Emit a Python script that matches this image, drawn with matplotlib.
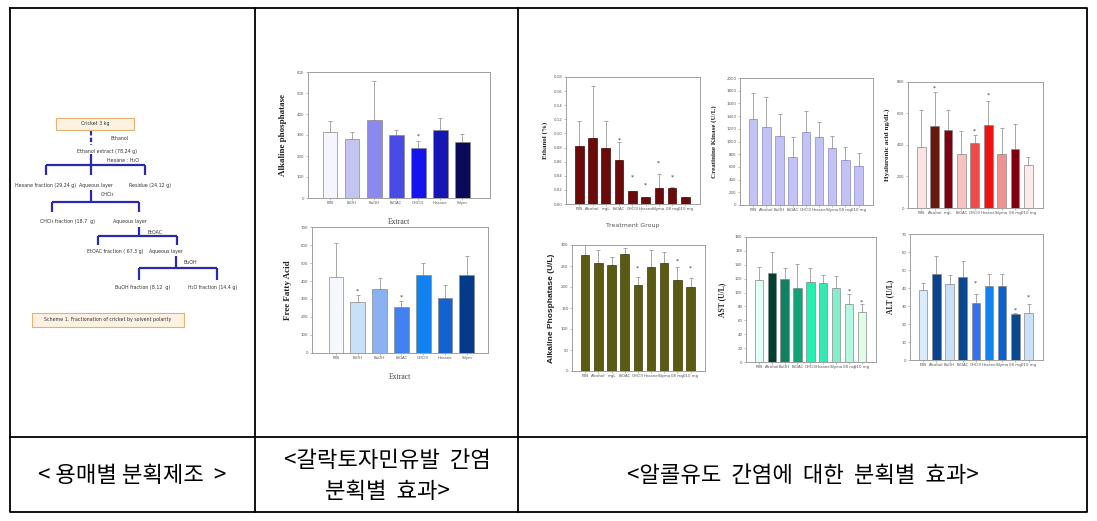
import matplotlib
matplotlib.use('Agg')
import matplotlib.pyplot as plt
from matplotlib.patches import Rectangle

W, H = 1097, 521

# ---------------- data ----------------
ext_groups = ['PBS', 'EtOH', 'BuOH', 'EtOAC', 'CHCl3', 'Hexane', 'Silym']
galn_alp = [313, 283, 370, 298, 238, 323, 267]
galn_alp_top = [365, 313, 555, 323, 273, 380, 307]
galn_alp_star = [None, None, None, None, 293, None, None]
galn_alp_colors = ['#f5f5ff', '#c4c4f2', '#8a8aee', '#4a4ae4', '#1414f0', '#1616b4', '#0a0a58']

galn_ffa = [425, 285, 355, 258, 435, 305, 435]
galn_ffa_top = [610, 322, 415, 290, 500, 380, 537]
galn_ffa_star = [None, 345, None, 312, None, None, None]
galn_ffa_colors = ['#f6f8ff', '#c8e0f8', '#8ab2f2', '#4282f0', '#1282f0', '#1262d2', '#043a8a']

alc_groups_a = ['PBS', 'Alcohol', 'mgL', 'EtOAC', 'CHCl3', 'Hexane', 'Silyma', '08 mg', '010 mg']
alc_groups_b = ['PBS', 'Alcohol', 'BuOH', 'EtOAC', 'CHCl3', 'Hexane', 'Silyma', '08 mg', '010 mg']

ethanol = [0.082, 0.094, 0.080, 0.062, 0.018, 0.010, 0.023, 0.022, 0.010]
ethanol_top = [0.118, 0.167, 0.118, 0.088, 0.019, 0.010, 0.043, 0.024, 0.010]
ethanol_star = [None, None, None, 0.090, 0.038, 0.027, 0.058, 0.038, None]

ck = [1360, 1230, 1090, 760, 1150, 1070, 900, 710, 620]
ck_top = [1770, 1700, 1430, 1070, 1480, 1300, 1080, 920, 820]

ha = [385, 520, 495, 345, 415, 525, 340, 375, 270]
ha_top = [620, 735, 625, 490, 465, 680, 505, 535, 325]
ha_star = [None, 760, None, None, 490, 715, None, None, None]
ha_colors = ['#fde4e4', '#6a1a0c', '#800012', '#f8c2c2', '#f04a4a', '#f01212', '#f09292', '#800012', '#fdeaea']

alp = [277, 258, 252, 278, 205, 248, 257, 217, 200]
alp_top = [320, 288, 272, 294, 225, 288, 284, 248, 222]
alp_star = [None, None, None, None, 245, None, None, 262, 246]

ast = [118, 128, 119, 107, 115, 114, 107, 83, 72]
ast_top = [137, 158, 135, 141, 136, 126, 124, 98, 83]
ast_star = [None, None, None, None, None, None, None, 102, 87]
ast_colors = ['#e2fff4', '#024030', '#108262', '#12a27a', '#22f0b2', '#34e8b2', '#84f0ca', '#b4f8e2', '#e2fce8']

alt = [39, 48, 42, 46, 31.5, 41, 41, 25.5, 26]
alt_top = [43, 58, 47, 55, 36.5, 48, 48, 26, 31]
alt_star = [None, None, None, None, 43, None, None, 27.5, 35]
alt_colors = ['#d8ecfc', '#0a4490', '#c8e0f8', '#0a4890', '#3272f0', '#1282f0', '#0a62d2', '#0a4890', '#c8e0f8']

captions = ['< 용매별 분획제조  >', '<갈락토자민유발  간염\n분획별  효과>', '<알콜유도  간염에  대한  분획별  효과>']

# ---------------- figure ----------------
fig = plt.figure(figsize=(W / 100, H / 100), dpi=100)
fig.patch.set_facecolor('white')

ov = fig.add_axes([0, 0, 1, 1])
ov.set_xlim(0, W)
ov.set_ylim(H, 0)
ov.axis('off')
ov.patch.set_alpha(0)

# table grid
tk = dict(color='black', lw=1.3, solid_capstyle='projecting')
L, R, T, B = 10, 1087, 8, 512
ov.plot([L, R, R, L, L], [T, T, B, B, T], **tk)
ov.plot([L, R], [437, 437], **tk)
ov.plot([255, 255], [T, B], **tk)
ov.plot([518, 518], [T, B], **tk)

# captions
cap_font = ['Noto Sans CJK KR', 'DejaVu Sans']
ov.text(132, 476, captions[0], ha='center', va='center', fontsize=16, family=cap_font)
ov.text(387, 476, captions[1], ha='center', va='center', fontsize=16, family=cap_font, linespacing=1.45)
ov.text(803, 476, captions[2], ha='center', va='center', fontsize=16, family=cap_font)

# flowchart
fc = '#2a2ab0'
lk = dict(color=fc, lw=1.6, solid_capstyle='butt')
ft = dict(fontsize=3.4, ha='center', va='center', color='#333333')
ov.add_patch(Rectangle((56, 118), 78, 12, fc='#fdf1e2', ec='#e6b070', lw=0.8))
ov.text(95, 124, 'Cricket 3 kg', **ft)
ov.plot([91, 91], [131, 145], color=fc, lw=1.6, ls=(0, (2, 1)))
ov.text(120, 139, 'Ethanol', **ft)
ov.text(107, 151, 'Ethanol extract (78.24 g)', **ft)
ov.plot([91, 91], [154, 165], **lk)
ov.text(123, 161, 'Hexane : H₂O', **ft)
ov.plot([46, 145], [165, 165], **lk)
for xx in (46, 91, 145):
    ov.plot([xx, xx], [165, 175], **lk)
ov.text(46, 185, 'Hexane fraction (29.24 g)', **ft)
ov.text(96, 185, 'Aqueous layer', **ft)
ov.text(150, 185, 'Residue (24.12 g)', **ft)
ov.plot([91, 91], [190, 202], **lk)
ov.text(107, 195, 'CHCl₃', **ft)
ov.plot([52, 139], [202, 202], **lk)
for xx in (52, 139):
    ov.plot([xx, xx], [202, 212], **lk)
ov.text(67, 222, 'CHCl₃ fraction (18.7  g)', **ft)
ov.text(130, 222, 'Aqueous layer', **ft)
ov.plot([139, 139], [227, 236], **lk)
ov.text(155, 232, 'EtOAC', **ft)
ov.plot([98, 177], [236, 236], **lk)
for xx in (98, 177):
    ov.plot([xx, xx], [236, 245], **lk)
ov.text(115, 252, 'EtOAC fraction ( 67.3 g)', **ft)
ov.text(166, 251, 'Aqueous layer', **ft)
ov.plot([176, 176], [256, 268], **lk)
ov.text(190, 262, 'BuOH', **ft)
ov.plot([139, 217], [268, 268], **lk)
for xx in (139, 217):
    ov.plot([xx, xx], [268, 280], **lk)
ov.text(143, 287, 'BuOH fraction (8.12  g)', **ft)
ov.text(213, 287, 'H₂O fraction (14.4 g)', **ft)
ov.add_patch(Rectangle((32, 313), 152, 14, fc='#fdf1e2', ec='#e6b070', lw=0.8))
ov.text(108, 320, 'Scheme 1. Fractionation of cricket by solvent polarity', **ft)


def px_axes(x0, y0, x1, y1):
    return fig.add_axes([x0 / W, 1 - y1 / H, (x1 - x0) / W, (y1 - y0) / H])


def bar_panel(rect, cats, vals, tops, colors, ylim, ystep, ylabel, ylab_x,
              ylab_kw, stars=None, xlim=(-1, 9.1), width=0.65, fmt='{:.0f}',
              xlabel=None, xlab_y=None, xlab_kw=None, edge='#8a8a8a'):
    ax = px_axes(*rect)
    x = list(range(len(cats)))
    ax.bar(x, vals, width=width, color=colors, edgecolor=edge, linewidth=0.5, zorder=2)
    lower = [0] * len(vals)
    upper = [t - v for t, v in zip(tops, vals)]
    ax.errorbar(x, vals, yerr=[lower, upper], fmt='none', ecolor='#9a9a9a',
                elinewidth=0.6, capsize=1.2, capthick=0.6, zorder=1)
    if stars:
        for xi, s in zip(x, stars):
            if s is not None:
                ax.text(xi, s, '*', ha='center', va='center', fontsize=4.5, color='#333333')
    ax.set_xlim(*xlim)
    ax.set_ylim(*ylim)
    ticks = []
    t = ylim[0]
    while t <= ylim[1] + 1e-9:
        ticks.append(t)
        t += ystep
    ax.set_yticks(ticks)
    ax.set_yticklabels([fmt.format(v) for v in ticks])
    ax.set_xticks(x)
    ax.set_xticklabels(cats)
    ax.tick_params(axis='both', length=1.5, width=0.4, color='#888888',
                   labelsize=2.8, labelcolor='#555555', pad=1)
    for sp in ax.spines.values():
        sp.set_color('#a0a0a0')
        sp.set_linewidth(0.7)
    ax.set_ylabel(ylabel, **ylab_kw)
    ax.yaxis.set_label_coords(ylab_x, 0.5)
    if xlabel:
        ax.set_xlabel(xlabel, **xlab_kw)
        ax.xaxis.set_label_coords(0.5, xlab_y)
    return ax


serif_b = dict(family='Liberation Serif', fontweight='bold', color='#222222')
serif = dict(family='Liberation Serif', color='#444444')

# middle panels
bar_panel((308, 72, 490, 198), ext_groups, galn_alp, galn_alp_top, galn_alp_colors,
          (0, 600), 100, 'Alkaline phosphatase', -0.115, dict(fontsize=6.5, **serif_b),
          stars=galn_alp_star, xlim=(-1, 7.27), width=0.68,
          xlabel='Extract', xlab_y=-0.16, xlab_kw=dict(fontsize=5.5, **serif))
bar_panel((312, 227, 488, 353), ext_groups, galn_ffa, galn_ffa_top, galn_ffa_colors,
          (0, 700), 100, 'Free Fatty Acid', -0.114, dict(fontsize=6.5, **serif_b),
          stars=galn_ffa_star, xlim=(-1.1, 6.97), width=0.68,
          xlabel='Extract', xlab_y=-0.16, xlab_kw=dict(fontsize=5.5, **serif))

# right panels
bar_panel((566, 77, 700, 204), alc_groups_a, ethanol, ethanol_top, ['#6a0a0a'] * 9,
          (0, 0.18), 0.02, 'Ethanol (%)', -0.134, dict(fontsize=5, **serif_b),
          stars=ethanol_star, fmt='{:.2f}', edge='#4a0505',
          xlabel='Treatment Group', xlab_y=-0.15,
          xlab_kw=dict(fontsize=4.5, color='#555555'))
bar_panel((740, 78, 873, 205), alc_groups_b, ck, ck_top, ['#c2c2f4'] * 9,
          (0, 2000), 200, 'Creatinine Kinase (U/L)', -0.173, dict(fontsize=5, **serif_b),
          edge='#8a8ac4')
bar_panel((908, 82, 1043, 208), alc_groups_a, ha, ha_top, ha_colors,
          (0, 800), 200, 'Hyaluronic acid ng/dL)', -0.133, dict(fontsize=5.2, **serif_b),
          stars=ha_star)
bar_panel((572, 245, 705, 371), alc_groups_a, alp, alp_top, ['#5a5a12'] * 9,
          (0, 300), 50, 'Alkaline Phosphatase (U/L)', -0.128,
          dict(fontsize=6, fontweight='bold', family='Liberation Sans', color='#222222'),
          stars=alp_star, edge='#3a3a08')
bar_panel((746, 237, 876, 362), alc_groups_b, ast, ast_top, ast_colors,
          (0, 180), 20, 'AST (U/L)', -0.154, dict(fontsize=5.5, **serif_b),
          stars=ast_star)
bar_panel((910, 234, 1043, 360), alc_groups_b, alt, alt_top, alt_colors,
          (0, 70), 10, 'ALT (U/L)', -0.12, dict(fontsize=5.5, **serif_b),
          stars=alt_star)

fig.savefig('out.png', dpi=100, facecolor='white')
